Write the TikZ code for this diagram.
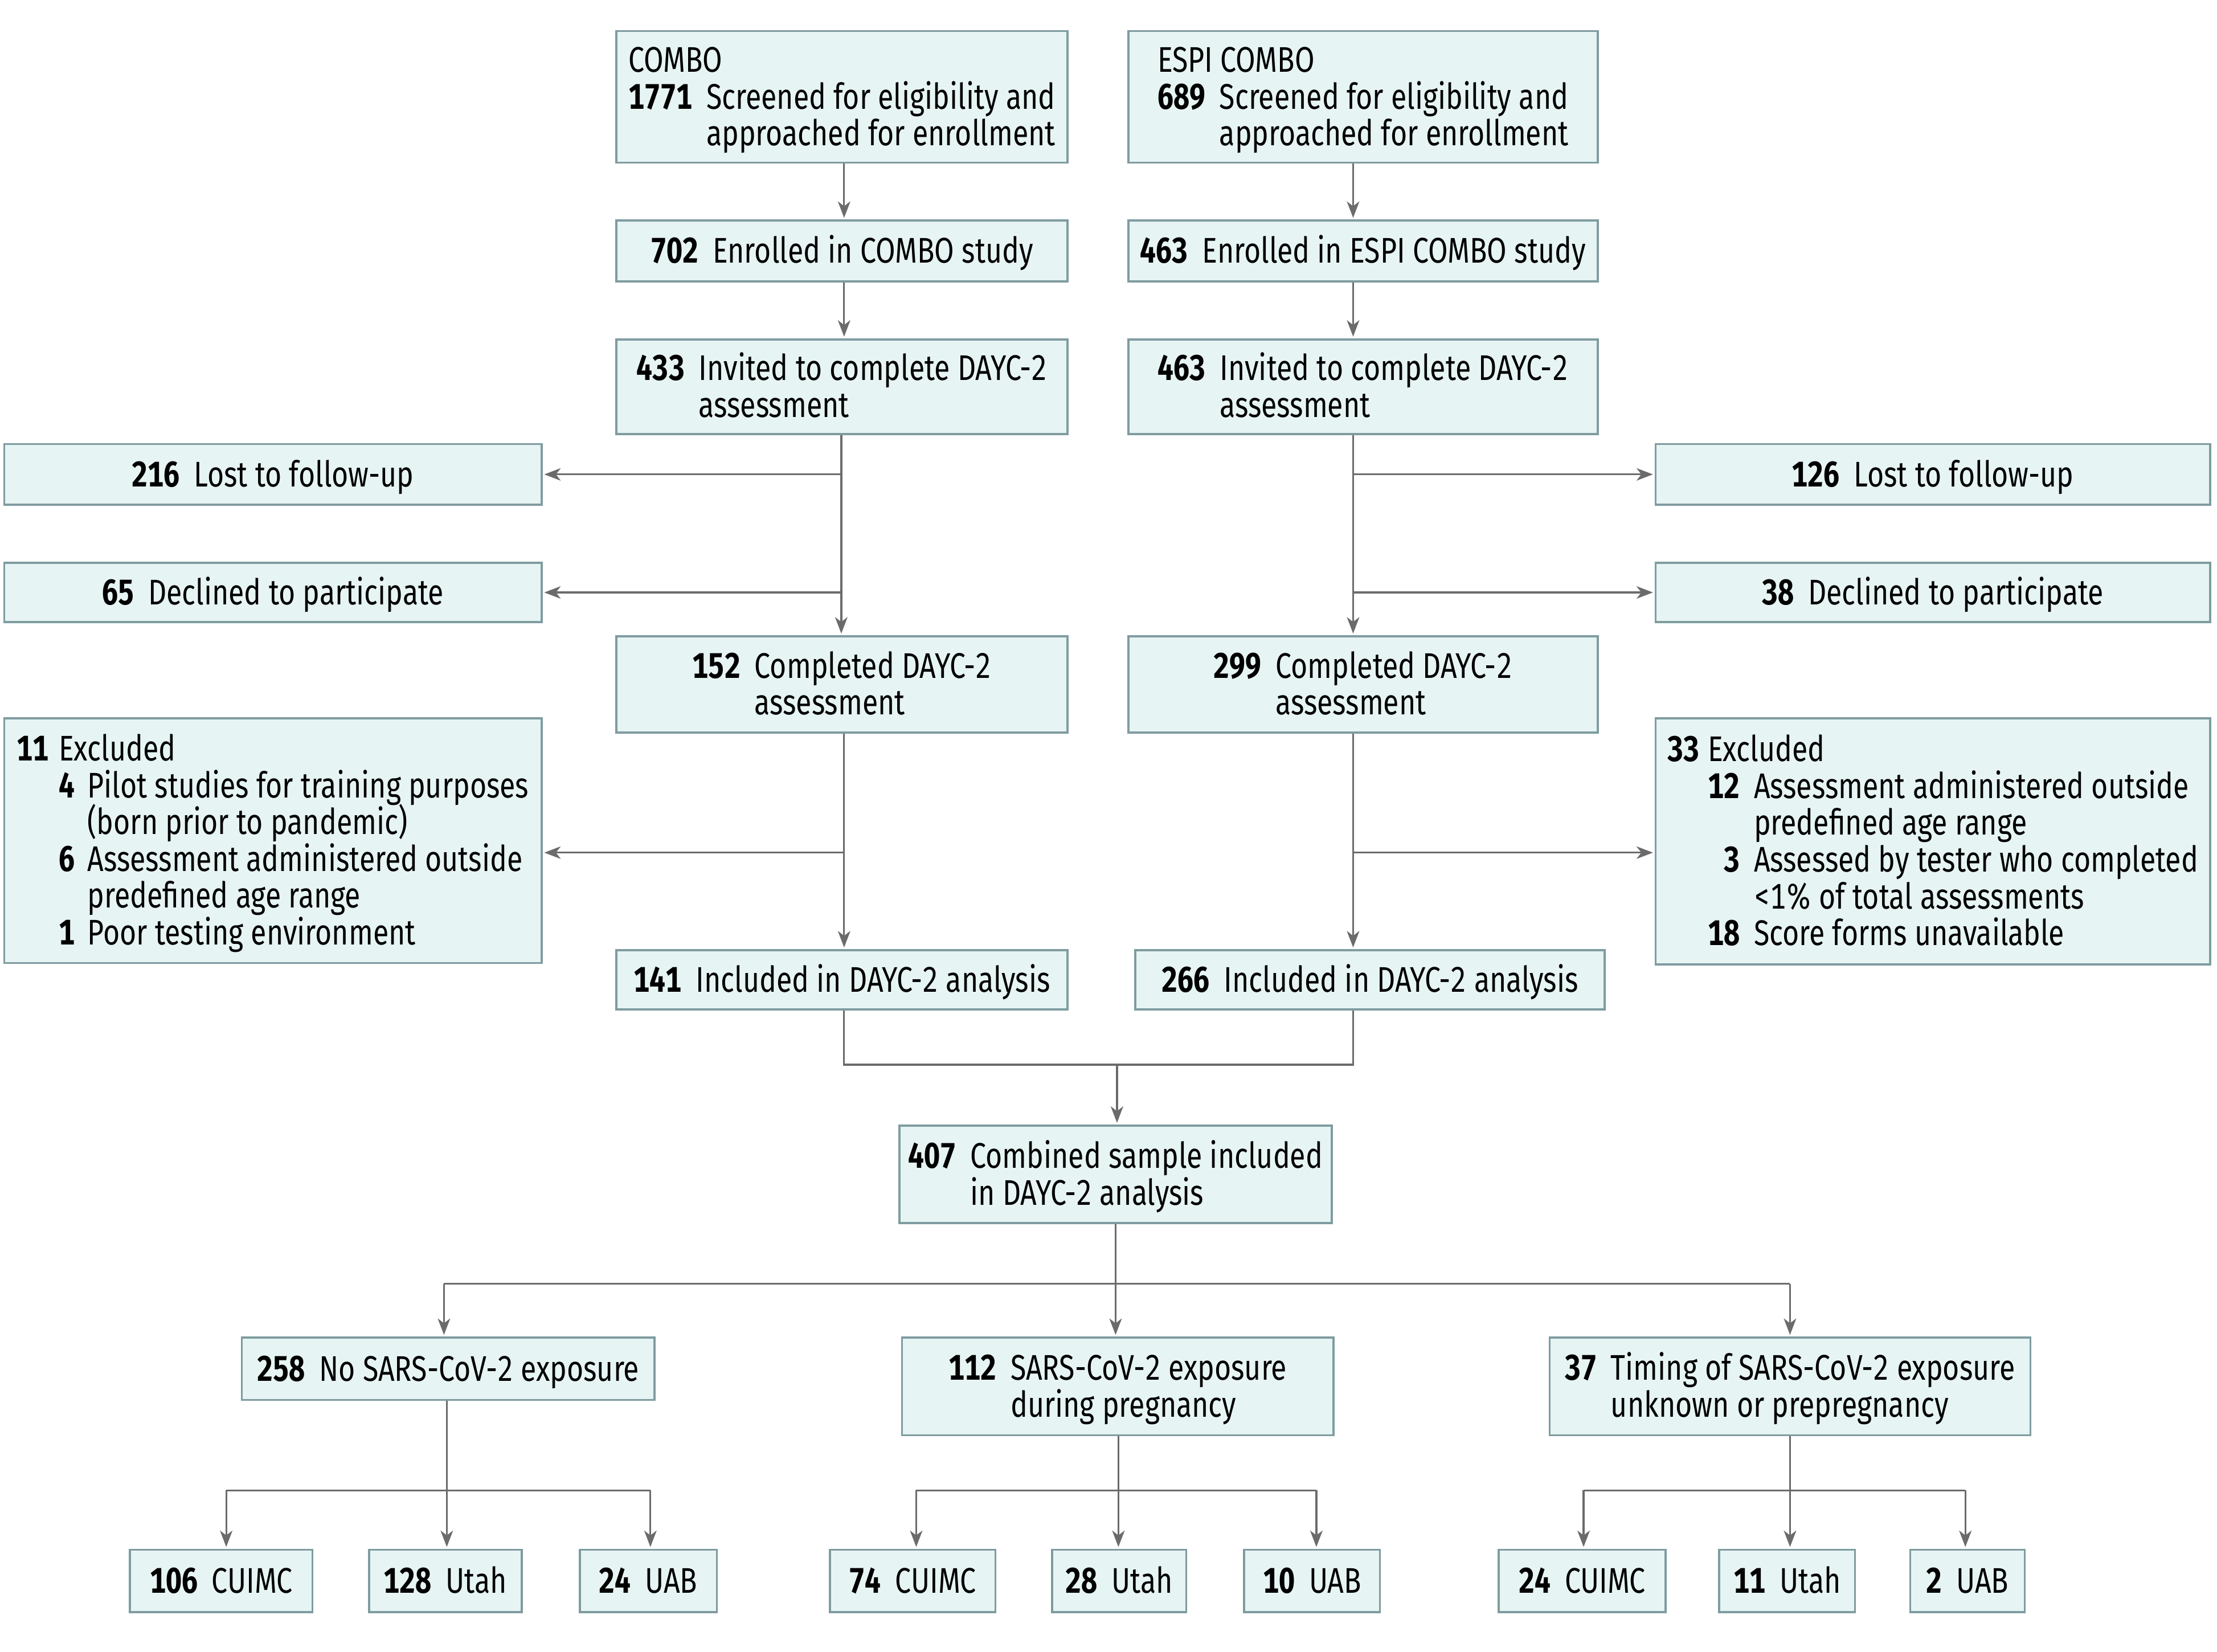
\documentclass[tikz,border=0pt]{standalone}
\usepackage{fontspec}
\setmainfont[FakeStretch=0.8, Numbers=Monospaced]{Fira Sans}
\usetikzlibrary{arrows.meta,calc}
\definecolor{boxfill}{HTML}{E7F4F4}
\definecolor{boxline}{HTML}{7F9CA0}
\definecolor{arrcol}{HTML}{6B6B6B}
\tikzset{
  box/.style={draw=boxline, fill=boxfill, line width=0.75pt, inner sep=0pt, align=center, font=\fontsize{12.6}{13}\selectfont},
  conn/.style={draw=arrcol, line width=0.65pt},
  arr/.style={conn, -{Stealth[length=5.8pt,width=4.4pt,inset=1.7pt]}, shorten >=0.6pt}
}
\newcommand\z[1]{\raisebox{-1.7pt}[0pt][0pt]{#1}}
\newcommand\bx[6]{\node[box, minimum width={(#4-#2)*0.5pt}, minimum height={(#5-#3)*0.5pt}] (#1) at ({(#2+#4)/2},{(#3+#5)/2}) {#6};}
\newcommand\hn[3]{\begin{tabular}{@{}l@{\hspace{5pt}}l@{}}\z{\textbf{#1}} & \z{#2}\\ & \z{#3}\end{tabular}}
\newcommand\sn[2]{\begin{tabular}{@{}l@{}}\z{\textbf{#1}\hspace{5pt}#2}\end{tabular}}
\begin{document}
\begin{tikzpicture}[x=0.5pt,y=-0.5pt]
\path[use as bounding box, fill=white] (0,0) rectangle (1568,1168);
% top row
\bx{combo}{436}{22}{755}{115}{\begin{tabular}{@{}l@{\hspace{5pt}}l@{}}\multicolumn{2}{@{}l}{\z{COMBO}}\\ \z{\textbf{1771}} & \z{Screened for eligibility and}\\ & \z{approached for enrollment}\end{tabular}}
\bx{espi}{798}{22}{1130}{115}{\begin{tabular}{@{}l@{\hspace{5pt}}l@{}}\multicolumn{2}{@{}l}{\z{ESPI COMBO}}\\ \z{\textbf{689}} & \z{Screened for eligibility and}\\ & \z{approached for enrollment}\end{tabular}}
\bx{e702}{436}{156}{755}{199}{\sn{702}{Enrolled in COMBO study}}
\bx{e463}{798}{156}{1130}{199}{\sn{463}{Enrolled in ESPI COMBO study}}
\bx{i433}{436}{240}{755}{307}{\hn{433}{Invited to complete DAYC-2}{assessment}}
\bx{i463}{798}{240}{1130}{307}{\hn{463}{Invited to complete DAYC-2}{assessment}}
\bx{lost1}{3}{314}{383}{357}{\sn{216}{Lost to follow-up}}
\bx{lost2}{1171}{314}{1563}{357}{\sn{126}{Lost to follow-up}}
\bx{decl1}{3}{398}{383}{440}{\sn{65}{Declined to participate}}
\bx{decl2}{1171}{398}{1563}{440}{\sn{38}{Declined to participate}}
\bx{c152}{436}{450}{755}{518}{\hn{152}{Completed DAYC-2}{assessment}}
\bx{c299}{798}{450}{1130}{518}{\hn{299}{Completed DAYC-2}{assessment}}
\bx{exc1}{3}{508}{383}{681}{\begin{tabular}{@{}l@{\hspace{3.5pt}}r@{\hspace{4.5pt}}l@{}}\z{\textbf{11}} & \multicolumn{2}{@{}l}{\z{Excluded}}\\
 & \z{\textbf{4}} & \z{Pilot studies for training purposes}\\
 & & \z{(born prior to pandemic)}\\
 & \z{\textbf{6}} & \z{Assessment administered outside}\\
 & & \z{predefined age range}\\
 & \z{\textbf{1}} & \z{Poor testing environment}\end{tabular}}
\bx{exc2}{1171}{508}{1563}{682}{\begin{tabular}{@{}l@{\hspace{3pt}}r@{\hspace{5pt}}l@{}}\z{\textbf{33}} & \multicolumn{2}{@{}l}{\z{Excluded}}\\
 & \z{\textbf{12}} & \z{Assessment administered outside}\\
 & & \z{predefined age range}\\
 & \z{\textbf{3}} & \z{Assessed by tester who completed}\\
 & & \z{<1\% of total assessments}\\
 & \z{\textbf{18}} & \z{Score forms unavailable}\end{tabular}}
\bx{inc141}{436}{672}{755}{714}{\sn{141}{Included in DAYC-2 analysis}}
\bx{inc266}{803}{672}{1135}{714}{\sn{266}{Included in DAYC-2 analysis}}
\bx{comb}{636}{796}{942}{865}{\hn{407}{Combined sample included}{in DAYC-2 analysis}}
\bx{g258}{171}{946}{463}{990}{\sn{258}{No SARS-CoV-2 exposure}}
\bx{g112}{638}{946}{943}{1015}{\hn{112}{SARS-CoV-2 exposure}{during pregnancy}}
\bx{g37}{1096}{946}{1436}{1015}{\hn{37}{Timing of SARS-CoV-2 exposure}{unknown or prepregnancy}}
\bx{b106}{92}{1096}{221}{1140}{\sn{106}{CUIMC}}
\bx{b128}{261}{1096}{369}{1140}{\sn{128}{Utah}}
\bx{b24}{410}{1096}{507}{1140}{\sn{24}{UAB}}
\bx{b74}{587}{1096}{704}{1140}{\sn{74}{CUIMC}}
\bx{b28}{744}{1096}{839}{1140}{\sn{28}{Utah}}
\bx{b10}{880}{1096}{976}{1140}{\sn{10}{UAB}}
\bx{b24b}{1060}{1096}{1178}{1140}{\sn{24}{CUIMC}}
\bx{b11}{1216}{1096}{1312}{1140}{\sn{11}{Utah}}
\bx{b2}{1351}{1096}{1432}{1140}{\sn{2}{UAB}}
% column coordinates
\coordinate (L) at (597,0);
\coordinate (R) at (957,0);
\coordinate (Lx) at (595,0);
% top connectors
\draw[arr] (L |- combo.south) -- (L |- e702.north);
\draw[arr] (R |- espi.south) -- (R |- e463.north);
\draw[arr] (L |- e702.south) -- (L |- i433.north);
\draw[arr] (R |- e463.south) -- (R |- i463.north);
% invited -> completed with branches
\draw[arr] (Lx |- i433.south) -- (Lx |- c152.north);
\draw[arr] (Lx |- lost1.east) -- (lost1.east);
\draw[arr] (Lx |- decl1.east) -- (decl1.east);
\draw[arr] (R |- i463.south) -- (R |- c299.north);
\draw[arr] (R |- lost2.west) -- (lost2.west);
\draw[arr] (R |- decl2.west) -- (decl2.west);
% completed -> included with exclusion branches
\coordinate (bl) at (597,603);
\coordinate (br) at (957,603);
\draw[arr] (L |- c152.south) -- (L |- inc141.north);
\draw[arr] (bl) -- (exc1.east |- bl);
\draw[arr] (R |- c299.south) -- (R |- inc266.north);
\draw[arr] (br) -- (exc2.west |- br);
% merge
\coordinate (mg) at (790,753);
\draw[conn] (L |- inc141.south) |- (R |- mg) -- (R |- inc266.south);
\draw[arr] (mg) -- (mg |- comb.north);
% split into three groups
\coordinate (s0) at (789,908);
\coordinate (s1) at (314,908);
\coordinate (s3) at (1266,908);
\draw[conn] (s0 |- comb.south) -- (s0);
\draw[conn] (s1) -- (s3);
\draw[arr] (s1) -- (s1 |- g258.north);
\draw[arr] (s0) -- (s0 |- g112.north);
\draw[arr] (s3) -- (s3 |- g37.north);
% group 1
\coordinate (a0) at (316,1054);
\coordinate (a1) at (160,1054);
\coordinate (a2) at (460,1054);
\draw[conn] (a0 |- g258.south) -- (a0);
\draw[conn] (a1) -- (a2);
\draw[arr] (a1) -- (a1 |- b106.north);
\draw[arr] (a0) -- (a0 |- b128.north);
\draw[arr] (a2) -- (a2 |- b24.north);
% group 2
\coordinate (c0) at (791,1054);
\coordinate (c1) at (648,1054);
\coordinate (c2) at (931,1054);
\draw[conn] (c0 |- g112.south) -- (c0);
\draw[conn] (c1) -- (c2);
\draw[arr] (c1) -- (c1 |- b74.north);
\draw[arr] (c0) -- (c0 |- b28.north);
\draw[arr] (c2) -- (c2 |- b10.north);
% group 3
\coordinate (d0) at (1266,1054);
\coordinate (d1) at (1120,1054);
\coordinate (d2) at (1390,1054);
\draw[conn] (d0 |- g37.south) -- (d0);
\draw[conn] (d1) -- (d2);
\draw[arr] (d1) -- (d1 |- b24b.north);
\draw[arr] (d0) -- (d0 |- b11.north);
\draw[arr] (d2) -- (d2 |- b2.north);
\end{tikzpicture}
\end{document}
